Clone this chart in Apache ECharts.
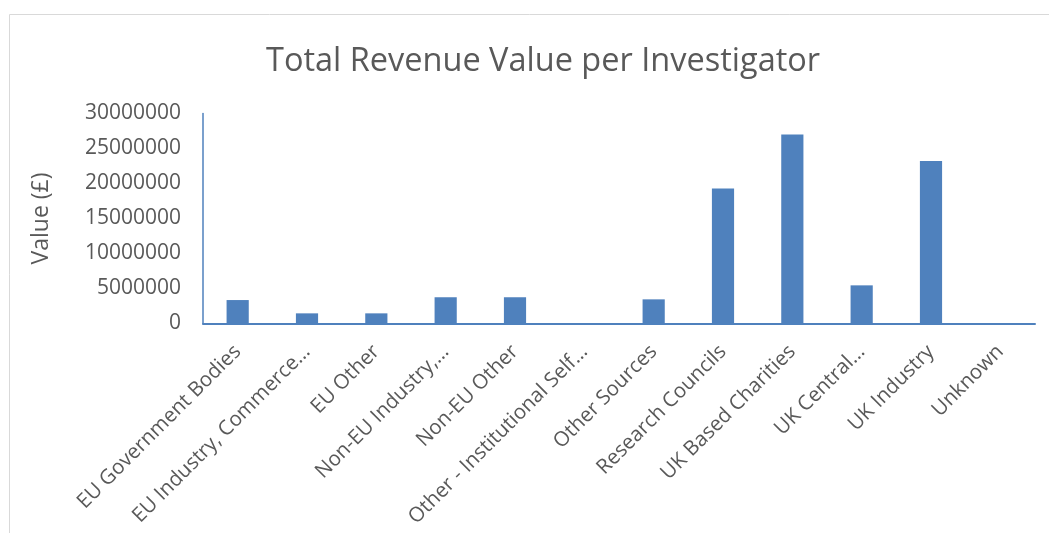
<!DOCTYPE html>
<html>
<head>
<meta charset="utf-8">
<script src="https://cdn.jsdelivr.net/npm/echarts@6/dist/echarts.min.js"></script>
<style>
  html, body { margin: 0; padding: 0; background: #fff; }
  #chart { width: 1049px; height: 533px; }
</style>
</head>
<body>
<div id="chart"></div>
<script>
var categories = [
  'EU Government Bodies',
  'EU Industry, Commerce…',
  'EU Other',
  'Non-EU Industry,…',
  'Non-EU Other',
  'Other - Institutional Self…',
  'Other Sources',
  'Research Councils',
  'UK Based Charities',
  'UK Central…',
  'UK Industry',
  'Unknown'
];
var revenueValues = [3350000, 1450000, 1450000, 3750000, 3750000, 0, 3450000, 19300000, 27000000, 5450000, 23200000, 0];
var yTicks = [0, 5000000, 10000000, 15000000, 20000000, 25000000, 30000000];

var barColor = '#4f81bd';
var textColor = '#595959';
var fontName = 'Open Sans';

var chart = echarts.init(document.getElementById('chart'));
var option = {
  animation: false,
  title: {
    text: 'Total Revenue Value per Investigator',
    left: 261,
    top: 40,
    textStyle: {
      fontFamily: fontName,
      fontWeight: 'normal',
      fontSize: 32.5,
      color: textColor
    }
  },
  graphic: [{
    type: 'rect',
    shape: { x: 9.5, y: 14.5, width: 1200, height: 700 },
    style: { fill: 'none', stroke: '#d9d9d9', lineWidth: 1 },
    silent: true
  }],
  grid: {
    left: 203,
    right: 14,
    top: 113.5,
    bottom: 209.5
  },
  xAxis: {
    type: 'category',
    data: categories,
    axisLine: { show: true, lineStyle: { color: barColor, width: 2 } },
    axisTick: { show: false },
    axisLabel: {
      rotate: 45,
      interval: 0,
      margin: 25,
      color: textColor,
      fontFamily: fontName,
      fontSize: 20.5
    }
  },
  yAxis: {
    type: 'value',
    min: yTicks[0],
    max: yTicks[yTicks.length - 1],
    interval: yTicks[1] - yTicks[0],
    name: 'Value (£)',
    nameLocation: 'middle',
    nameGap: 150,
    nameRotate: 90,
    nameTextStyle: {
      color: textColor,
      fontFamily: fontName,
      fontSize: 23
    },
    axisLine: { show: true, lineStyle: { color: barColor, width: 1.5 } },
    axisTick: { show: false },
    splitLine: { show: false },
    axisLabel: {
      margin: 22,
      color: textColor,
      fontFamily: fontName,
      fontSize: 21,
      formatter: function (v) { return String(v); }
    }
  },
  series: [{
    type: 'bar',
    data: revenueValues,
    barWidth: '32%',
    itemStyle: {
      color: barColor
    }
  }]
};
chart.setOption(option);
</script>
</body>
</html>
